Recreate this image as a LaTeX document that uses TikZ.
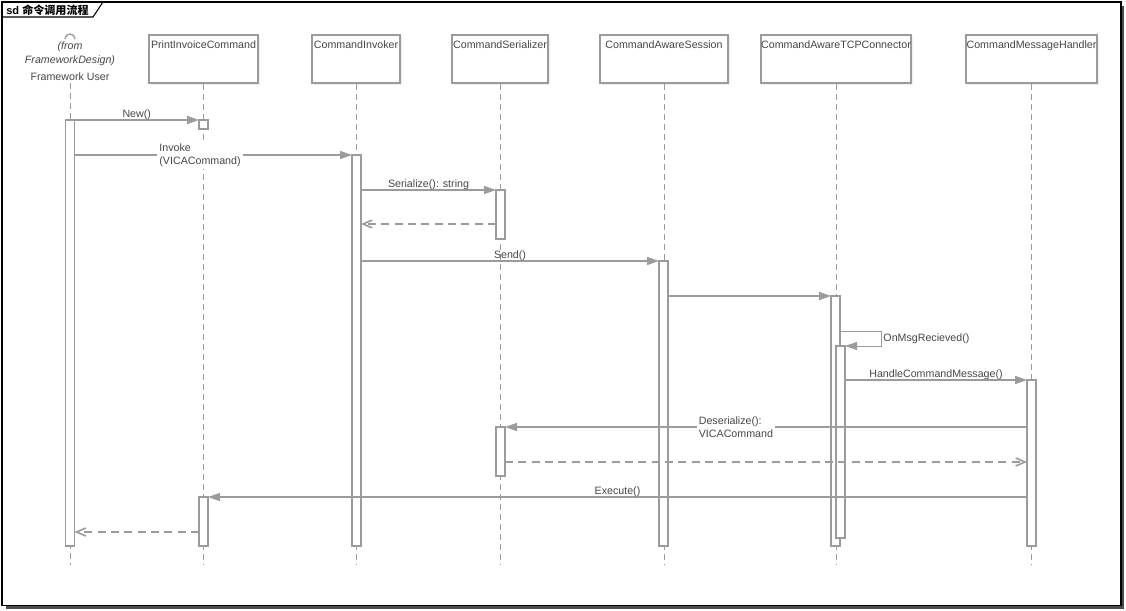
\documentclass[tikz,border=0pt]{standalone}
\usepackage{fontspec}
\setmainfont{Liberation Sans}
\newfontfamily\cjk{Noto Sans CJK SC}
\usetikzlibrary{arrows.meta,shadows}
\definecolor{linegray}{RGB}{155,155,155}
\definecolor{textgray}{RGB}{70,70,70}
\tikzset{
  head/.style={draw=linegray, line width=1.2pt, fill=white, minimum height=48*0.75pt,
    drop shadow={shadow xshift=1.2pt, shadow yshift=-1.2pt, fill=black!12}},
  headtext/.style={font=\fontsize{8}{10}\selectfont, text=textgray, anchor=north, inner sep=0pt, yshift=-4.5pt},
  life/.style={draw=linegray, line width=0.6pt, dash pattern=on 4.5pt off 3pt},
  actbar/.style={draw=linegray, line width=1.2pt, fill=white, minimum width=9*0.75pt, anchor=north, inner sep=0pt, outer sep=0pt},
  msg/.style={draw=linegray, line width=1.2pt, -{Triangle[length=9pt,width=6pt]}},
  selfmsg/.style={draw=linegray, line width=0.7pt, -{Triangle[length=9pt,width=6pt]}},
  ret/.style={draw=linegray, line width=1.2pt, dash pattern=on 6pt off 4pt, -{Straight Barb[length=7pt,width=6pt]}},
  lbl/.style={font=\fontsize{8}{10}\selectfont, text=textgray, inner sep=1.5pt},
  tag/.style={lbl, above, inner sep=0.5pt, yshift=-1pt},
}
\begin{document}
\begin{tikzpicture}[x=0.75pt,y=-0.75pt]
\useasboundingbox (0,0) rectangle (1126,610);
\draw[black!70, line width=2.2pt] (1123,6) -- (1123,607.5) -- (6,607.5);
\draw[black, line width=0.8pt] (2,2) rectangle (1121,605.5);
\draw[black, line width=0.8pt] (2,17) -- (93,17) -- (103,2);
\node[anchor=west, inner sep=0pt, font=\bfseries\fontsize{8.3}{10}\selectfont] (title) at (6,10) {sd {\cjk 命令调用流程}};

\node[lbl, font=\itshape\fontsize{8}{10.5}\selectfont, align=center] (from) at (70,54) {(from\\FrameworkDesign)};
\node[lbl] (user) at (70,76.5) {Framework User};
\draw[linegray, line width=1pt] (65,39) arc (180:360:5);

\node[head, minimum width=109*0.75pt, label={[headtext]north:PrintInvoiceCommand}] (pic) at (203.5,59) {};
\node[head, minimum width=88*0.75pt, label={[headtext]north:CommandInvoker}] (inv) at (356,59) {};
\node[head, minimum width=96*0.75pt, label={[headtext]north:CommandSerializer}] (ser) at (500,59) {};
\node[head, minimum width=128*0.75pt, label={[headtext]north:CommandAwareSession}] (ses) at (664,59) {};
\node[head, minimum width=150*0.75pt, label={[headtext]north:CommandAwareTCPConnector}] (tcp) at (836,59) {};
\node[head, minimum width=131*0.75pt, label={[headtext]north:CommandMessageHandler}] (hdl) at (1031.5,59) {};

\coordinate (bot) at (0,565);
\path[life] (user.south) -- (user.south |- bot);
\path[life] (pic.south) -- (pic.south |- bot);
\path[life] (inv.south) -- (inv.south |- bot);
\path[life] (ser.south) -- (ser.south |- bot);
\path[life] (ses.south) -- (ses.south |- bot);
\path[life] (tcp.south) -- (tcp.south |- bot);
\path[life] (hdl.south) -- (hdl.south |- bot);

\node[actbar, minimum height=426*0.75pt] (ua) at (70,120) {};
\node[actbar, minimum height=9*0.75pt] (pa1) at (203.5,120) {};
\node[actbar, minimum height=49*0.75pt] (pa2) at (203.5,497) {};
\node[actbar, minimum height=391*0.75pt] (ia) at (356.5,155) {};
\node[actbar, minimum height=49*0.75pt] (sa1) at (500.5,190) {};
\node[actbar, minimum height=49*0.75pt] (sa2) at (500.5,427) {};
\node[actbar, minimum height=285*0.75pt] (ca) at (663.5,261) {};
\node[actbar, minimum height=250*0.75pt] (ta1) at (835.5,296) {};
\node[actbar, minimum height=192*0.75pt] (ta2) at (840.5,346) {};
\node[actbar, minimum height=166*0.75pt] (ha) at (1031.5,380) {};

\coordinate (r1) at (0,224);
\coordinate (s1) at (0,331);
\coordinate (r2) at (0,462);
\coordinate (r3) at (0,532);

\path[msg] (ua.north east) -- node[tag] {New()} (pa1.north west);
\path[msg] (ua.east |- ia.north) -- node[lbl, pos=0.296, anchor=west, fill=white, align=left] {Invoke\\(VICACommand)} (ia.north west);
\path[msg] (ia.east |- sa1.north) -- node[tag] {Serialize(): string} (sa1.north west);
\path[ret] (sa1.west |- r1) -- (ia.east |- r1);
\path[msg] (ia.east |- ca.north) -- node[tag] {Send()} (ca.north west);
\path[msg] (ca.east |- ta1.north) -- (ta1.north west);
\path[selfmsg] (ta1.east |- s1) -- ++(41,0) -- node[lbl, right] {OnMsgRecieved()} ++(0,15) -- (ta2.north east);
\path[msg] (ta2.east |- ha.north) -- node[tag] {HandleCommandMessage()} (ha.north west);
\path[msg] (ha.west |- sa2.north) -- node[lbl, pos=0.634, anchor=west, fill=white, align=left] {Deserialize():\\VICACommand} (sa2.north east);
\path[ret] (sa2.east |- r2) -- (ha.west |- r2);
\path[msg] (ha.west |- pa2.north) -- node[tag] {Execute()} (pa2.north east);
\path[ret] (pa2.west |- r3) -- (ua.east |- r3);
\end{tikzpicture}
\end{document}
